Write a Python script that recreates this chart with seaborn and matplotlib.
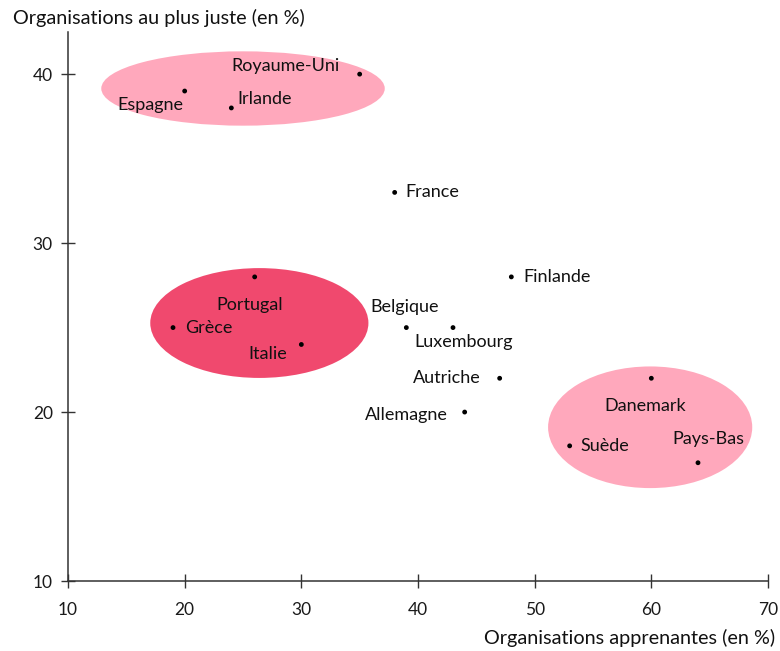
import matplotlib
matplotlib.use("Agg")
import matplotlib.pyplot as plt
from matplotlib.patches import Ellipse
import seaborn as sns
import pandas as pd

countries = ["Royaume-Uni", "Espagne", "Irlande", "France", "Finlande", "Portugal",
             "Grèce", "Italie", "Belgique", "Luxembourg", "Autriche", "Allemagne",
             "Danemark", "Suède", "Pays-Bas"]
apprenantes = [35, 20, 24, 38, 48, 26, 19, 30, 39, 43, 47, 44, 60, 53, 64]
plus_juste = [40, 39, 38, 33, 28, 28, 25, 24, 25, 25, 22, 20, 22, 18, 17]
x_ticks = [10, 20, 30, 40, 50, 60, 70]
y_ticks = [10, 20, 30, 40]

df = pd.DataFrame({"x": apprenantes, "y": plus_juste, "pays": countries})

sns.set_theme(style="white")
plt.rcParams["font.family"] = ["Lato", "DejaVu Sans"]

fig = plt.figure(figsize=(7.8, 6.51), dpi=100)
ax = fig.add_axes([0.0872, 0.1075, 0.8974, 0.8435])

# groups (ellipses)
light = "#FFA8BC"
red = "#F0496E"
ax.add_patch(Ellipse((25.0, 39.15), 24.3, 4.4, facecolor=light, edgecolor="none", zorder=1))
ax.add_patch(Ellipse((26.4, 25.27), 18.7, 6.5, facecolor=red, edgecolor="none", zorder=1))
ax.add_patch(Ellipse((59.9, 19.1), 17.5, 7.2, facecolor=light, edgecolor="none", zorder=1))

sns.scatterplot(data=df, x="x", y="y", ax=ax, color="black", s=12, edgecolor="none", zorder=3)

offsets = {
    "Royaume-Uni": (-20, 8, "right"),
    "Espagne": (-1, -14, "right"),
    "Irlande": (6, 9, "left"),
    "France": (11, 0, "left"),
    "Finlande": (12, 0, "left"),
    "Portugal": (-5, -28, "center"),
    "Grèce": (12, 0, "left"),
    "Italie": (-14, -10, "right"),
    "Belgique": (-2, 21, "center"),
    "Luxembourg": (11, -14, "center"),
    "Autriche": (-19, 0, "right"),
    "Allemagne": (-17, -3, "right"),
    "Danemark": (-6, -28, "center"),
    "Suède": (11, 0, "left"),
    "Pays-Bas": (10, 24, "center"),
}
for xv, yv, name in zip(apprenantes, plus_juste, countries):
    dx, dy, ha = offsets[name]
    ax.annotate(name, (xv, yv), xytext=(dx, dy), textcoords="offset pixels",
                ha=ha, va="center", fontsize=13, color="#111111", zorder=4)

ax.set_xlim(10, 70)
ax.set_ylim(10, 42.5)
ax.set_xticks(x_ticks)
ax.set_yticks(y_ticks)
ax.tick_params(axis="both", bottom=True, left=True, direction="inout", length=10,
               width=1, color="#333333", labelsize=12.5, labelcolor="#1a1a1a", pad=6)
ax.tick_params(axis="x", pad=10)
for s in ["top", "right"]:
    ax.spines[s].set_visible(False)
for s in ["left", "bottom"]:
    ax.spines[s].set_color("#333333")
    ax.spines[s].set_linewidth(1.1)
ax.set_xlabel("")
ax.set_ylabel("")
ax.grid(False)

fig.text(13 / 780, 1 - 18 / 651, "Organisations au plus juste (en %)", fontsize=14.3,
         ha="left", va="center", color="#111111")
fig.text(775 / 780, 1 - 638 / 651, "Organisations apprenantes (en %)", fontsize=14.3,
         ha="right", va="center", color="#111111")

fig.savefig("out.png", dpi=100)
